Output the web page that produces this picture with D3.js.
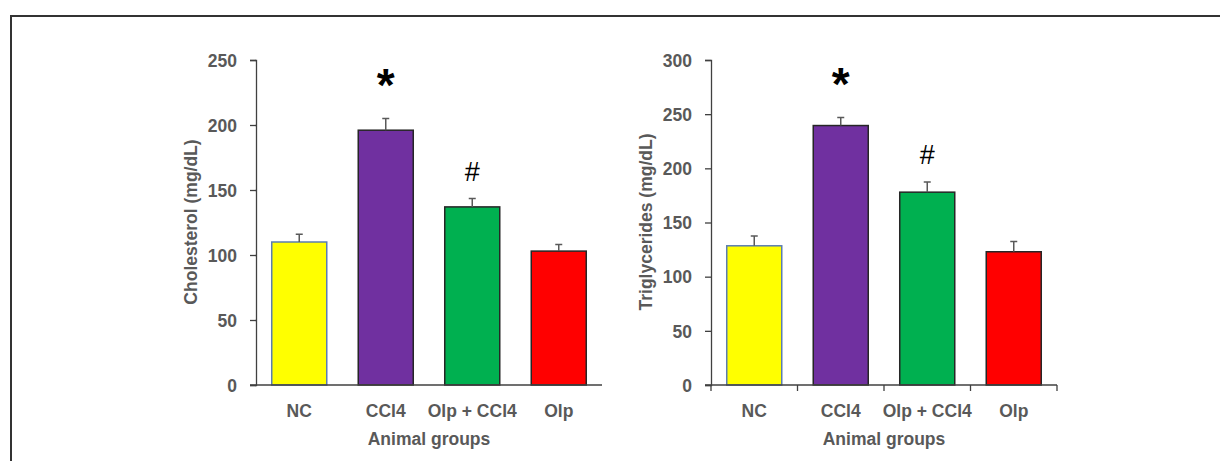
<!DOCTYPE html>
<html>
<head>
<meta charset="utf-8">
<script src="https://cdn.jsdelivr.net/npm/d3@7"></script>
<style>
  html, body { margin: 0; padding: 0; background: #fff; }
  svg { display: block; }
  text { font-family: "Liberation Sans", Arial, sans-serif; }
</style>
</head>
<body>
<svg id="chart" width="1220" height="461"></svg>
<script>
const categories = ["NC", "CCl4", "Olp + CCl4", "Olp"];
const barColors = ["#FFFF00", "#7030A0", "#00B050", "#FF0000"];
const barStrokes = ["#5B7DB1", "#262626", "#262626", "#262626"];

const cholesterolMeans = [110, 196, 137, 103];
const cholesterolErrors = [6, 9, 6.5, 5];
const cholesterolTicks = [0, 50, 100, 150, 200, 250];
const cholesterolMarks = ["", "*", "#", ""];

const triglycMeans = [128.5, 239.5, 178, 123];
const triglycErrors = [9, 7.5, 9.5, 9.5];
const triglycTicks = [0, 50, 100, 150, 200, 250, 300];
const triglycMarks = ["", "*", "#", ""];

const svg = d3.select("#chart");

// outer frame
svg.append("path")
  .attr("d", "M11,462 L11,16 L1221,16")
  .attr("fill", "none").attr("stroke", "#333").attr("stroke-width", 2);

const grey = "#595959";
const axisCol = "#404040";

function drawChart(opt) {
  const g = svg.append("g");
  const x = d3.scaleBand().domain(categories).range([opt.x0, opt.x1])
    .paddingInner(0.364).paddingOuter(0.182);
  const y = d3.scaleLinear().domain([0, opt.max]).range([385, 60]);

  // y axis
  const yAxis = g.append("g").attr("transform", `translate(${opt.x0},0)`)
    .call(d3.axisLeft(y).tickValues(opt.ticks).tickSize(6).tickPadding(13));
  yAxis.select(".domain").attr("stroke", axisCol).attr("stroke-width", 1.3);
  yAxis.selectAll(".tick line").attr("stroke", axisCol).attr("stroke-width", 1.3);
  yAxis.selectAll(".tick text").attr("fill", grey).attr("font-size", 17.5)
    .attr("font-weight", "bold").attr("dy", "0.36em");

  // bars
  g.selectAll("rect.bar").data(opt.means).join("rect")
    .attr("class", "bar")
    .attr("x", (d, i) => x(categories[i]))
    .attr("width", x.bandwidth())
    .attr("y", d => y(d))
    .attr("height", d => y(0) - y(d))
    .attr("fill", (d, i) => barColors[i])
    .attr("stroke", (d, i) => barStrokes[i])
    .attr("stroke-width", 1.5);

  // error bars
  const cx = i => x(categories[i]) + x.bandwidth() / 2;
  g.selectAll("path.err").data(opt.means).join("path")
    .attr("class", "err")
    .attr("d", (d, i) => {
      const top = y(d + opt.errs[i]);
      return `M${cx(i)},${y(d)}V${top}M${cx(i) - 3.5},${top}H${cx(i) + 3.5}`;
    })
    .attr("fill", "none").attr("stroke", grey).attr("stroke-width", 1.5);

  // x axis
  const xAxisG = g.append("g");
  xAxisG.append("line")
    .attr("x1", opt.x0 - 6).attr("x2", opt.x1)
    .attr("y1", y(0)).attr("y2", y(0))
    .attr("stroke", axisCol).attr("stroke-width", 1.3);
  if (opt.xTicks) {
    const bs = [opt.x0, ...categories.map((c, i) => opt.x0 + (i + 1) * (opt.x1 - opt.x0) / categories.length)];
    xAxisG.selectAll("line.xt").data(bs).join("line")
      .attr("class", "xt")
      .attr("x1", d => d).attr("x2", d => d)
      .attr("y1", y(0)).attr("y2", y(0) + 6)
      .attr("stroke", axisCol).attr("stroke-width", 1.3);
  }
  g.selectAll("text.cat").data(categories).join("text")
    .attr("class", "cat")
    .attr("x", d => x(d) + x.bandwidth() / 2)
    .attr("y", 417)
    .attr("text-anchor", "middle")
    .attr("fill", grey).attr("font-size", 17.5).attr("font-weight", "bold")
    .text(d => d);

  // axis titles
  g.append("text")
    .attr("x", (opt.x0 + opt.x1) / 2).attr("y", 445)
    .attr("text-anchor", "middle")
    .attr("fill", grey).attr("font-size", 17.5).attr("font-weight", "bold")
    .text("Animal groups");
  g.append("text")
    .attr("transform", `translate(${opt.labelX},${222}) rotate(-90)`)
    .attr("text-anchor", "middle")
    .attr("fill", grey).attr("font-size", 17.5).attr("font-weight", "bold")
    .text(opt.title);

  // significance marks
  g.selectAll("text.mark").data(opt.marks).join("text")
    .attr("class", "mark")
    .attr("x", (d, i) => cx(i))
    .attr("y", (d, i) => {
      const top = y(opt.means[i] + opt.errs[i]);
      return d === "*" ? top - 17.5 : top - 17.5;
    })
    .attr("text-anchor", "middle")
    .attr("fill", "#000")
    .attr("font-size", d => d === "*" ? 46 : 27)
    .attr("font-weight", d => d === "*" ? "bold" : "normal")
    .text(d => d);
}

drawChart({ x0: 256, x1: 602, max: 250, ticks: cholesterolTicks, means: cholesterolMeans,
  errs: cholesterolErrors, marks: cholesterolMarks, title: "Cholesterol (mg/dL)", labelX: 196.5, xTicks: false });
drawChart({ x0: 711, x1: 1057, max: 300, ticks: triglycTicks, means: triglycMeans,
  errs: triglycErrors, marks: triglycMarks, title: "Triglycerides (mg/dL)", labelX: 652, xTicks: true });
</script>
</body>
</html>
